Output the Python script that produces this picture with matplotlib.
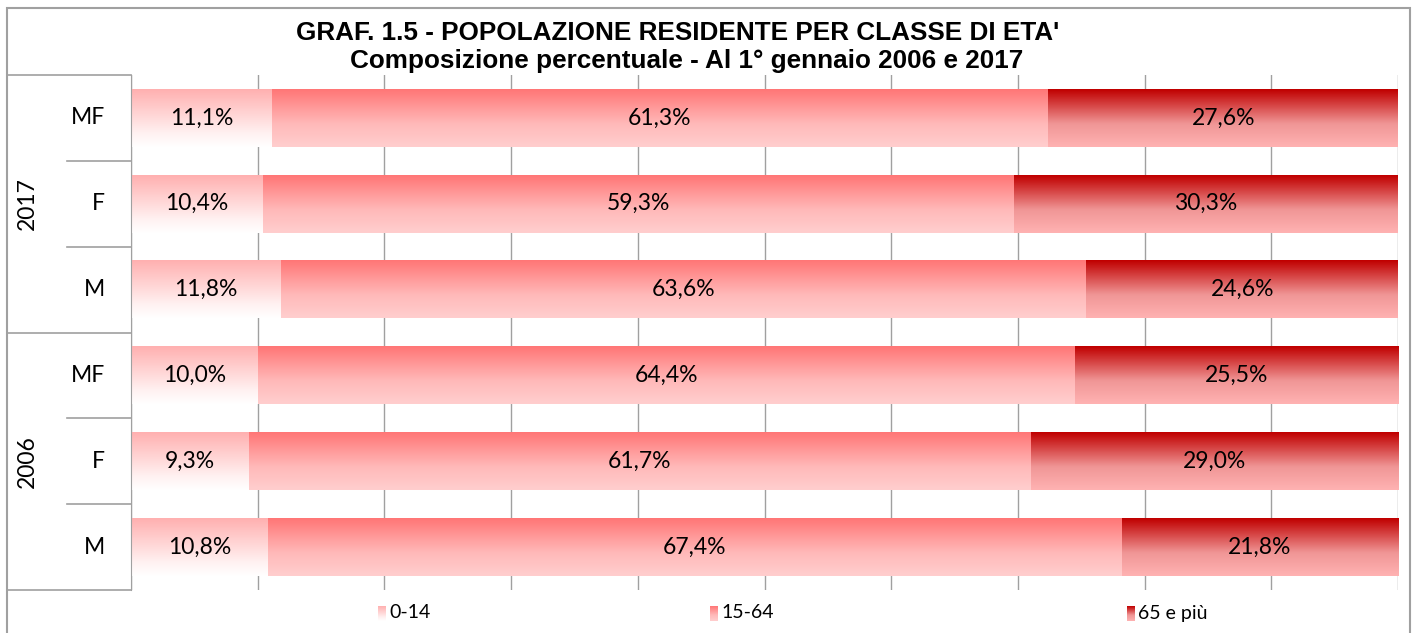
import numpy as np
import matplotlib
matplotlib.use('Agg')
import matplotlib.pyplot as plt
from matplotlib.patches import Rectangle
from matplotlib.transforms import blended_transform_factory

# dati del grafico (dall'alto verso il basso)
anni = ['2017', '2017', '2017', '2006', '2006', '2006']
sesso = ['MF', 'F', 'M', 'MF', 'F', 'M']
classi = ['0-14', '15-64', '65 e più']
v_0_14 = [11.1, 10.4, 11.8, 10.0, 9.3, 10.8]
v_15_64 = [61.3, 59.3, 63.6, 64.4, 61.7, 67.4]
v_65 = [27.6, 30.3, 24.6, 25.5, 29.0, 21.8]

# gradienti verticali (alto -> basso)
gradienti = [
    [(0.0, (255, 176, 176)), (0.75, (255, 240, 240)), (1.0, (255, 255, 255))],
    [(0.0, (255, 118, 118)), (0.6, (255, 185, 185)), (1.0, (255, 206, 206))],
    [(0.0, (192, 0, 0)), (0.6, (240, 150, 150)), (1.0, (255, 178, 178))],
]

FONT = 'Lato'
GRIGIO = '#a0a0a0'


def gradiente(stops, n=64):
    t = np.linspace(0, 1, n)
    pos = [s[0] for s in stops]
    img = np.zeros((n, 1, 3))
    for c in range(3):
        img[:, 0, c] = np.interp(t, pos, [s[1][c] for s in stops]) / 255.0
    return img


fig = plt.figure(figsize=(14.17, 6.33), dpi=100)
W, H = 1417, 633
ax = fig.add_axes([131 / W, 1 - 590 / H, (1398 - 131) / W, (590 - 75) / H])

serie = np.array([v_0_14, v_15_64, v_65])
perc = serie / serie.sum(axis=0) * 100
y = np.arange(len(sesso))
sinistra = np.zeros(len(sesso))

for k in range(len(classi)):
    barre = ax.barh(y, perc[k], left=sinistra, height=0.67, color='none',
                    edgecolor='none', zorder=2)
    img = gradiente(gradienti[k])
    for i, b in enumerate(barre):
        x0, y0 = b.get_x(), b.get_y()
        x1, y1 = x0 + b.get_width(), y0 + b.get_height()
        ax.imshow(img, extent=[x0, x1, y1, y0], aspect='auto',
                  interpolation='bilinear', zorder=2)
        ax.text(x0 + b.get_width() / 2, y[i], f'{serie[k][i]:.1f}%'.replace('.', ','),
                ha='center', va='center', fontsize=16.5, family=FONT, zorder=3)
    sinistra += perc[k]

ax.set_xlim(0, 100)
ax.set_ylim(len(sesso) - 0.5, -0.5)
ax.set_xticks(np.arange(0, 101, 10))
ax.xaxis.grid(True, color=GRIGIO, lw=1)
ax.set_axisbelow(True)
ax.tick_params(left=False, bottom=False, labelleft=False, labelbottom=False)
for s in ['top', 'right', 'bottom']:
    ax.spines[s].set_visible(False)
ax.spines['left'].set_color(GRIGIO)

# etichette a due livelli sull'asse verticale
tr = blended_transform_factory(fig.transFigure, ax.transData)
for i, s in enumerate(sesso):
    ax.text(105 / W, y[i], s, transform=tr, ha='right', va='center',
            fontsize=16.5, family=FONT)
for i in range(1, len(sesso)):
    if anni[i] != anni[i - 1]:
        x_inizio = 7 / W
    else:
        x_inizio = 67 / W
    ax.plot([x_inizio, 131 / W], [i - 0.5, i - 0.5], transform=tr, color=GRIGIO,
            lw=1.2, clip_on=False)
for yy in [-0.5, len(sesso) - 0.5]:
    ax.plot([7 / W, 131 / W], [yy, yy], transform=tr, color=GRIGIO, lw=1.2, clip_on=False)
for a in dict.fromkeys(anni):
    idx = [i for i, v in enumerate(anni) if v == a]
    ax.text(27 / W, np.mean(idx), a, transform=tr, ha='center', va='center',
            rotation=90, fontsize=16.5, family=FONT)

# titolo
fig.text(678 / W, 1 - 33 / H, "GRAF. 1.5 - POPOLAZIONE RESIDENTE PER CLASSE DI ETA'",
         ha='center', va='center', fontsize=18.8, weight='bold', family='Liberation Sans')
fig.text(687 / W, 1 - 61 / H, "Composizione percentuale - Al 1° gennaio 2006 e 2017",
         ha='center', va='center', fontsize=18.8, weight='bold', family='Liberation Sans')

# legenda
leg_x = [378, 710, 1127]
for k, nome in enumerate(classi):
    la = fig.add_axes([leg_x[k] / W, 1 - 621 / H, 8 / W, 15 / H])
    la.imshow(gradiente(gradienti[k]), aspect='auto', interpolation='bilinear')
    la.axis('off')
    fig.text((leg_x[k] + 11) / W, 1 - 613 / H, nome, ha='left', va='center',
             fontsize=14, family=FONT)

# cornice
fig.add_artist(Rectangle((7 / W, -0.05), (1410 - 7) / W, 1.05 - 8 / H,
                         transform=fig.transFigure, fill=False, edgecolor=GRIGIO, lw=1.5))

fig.savefig('out.png', dpi=100)
